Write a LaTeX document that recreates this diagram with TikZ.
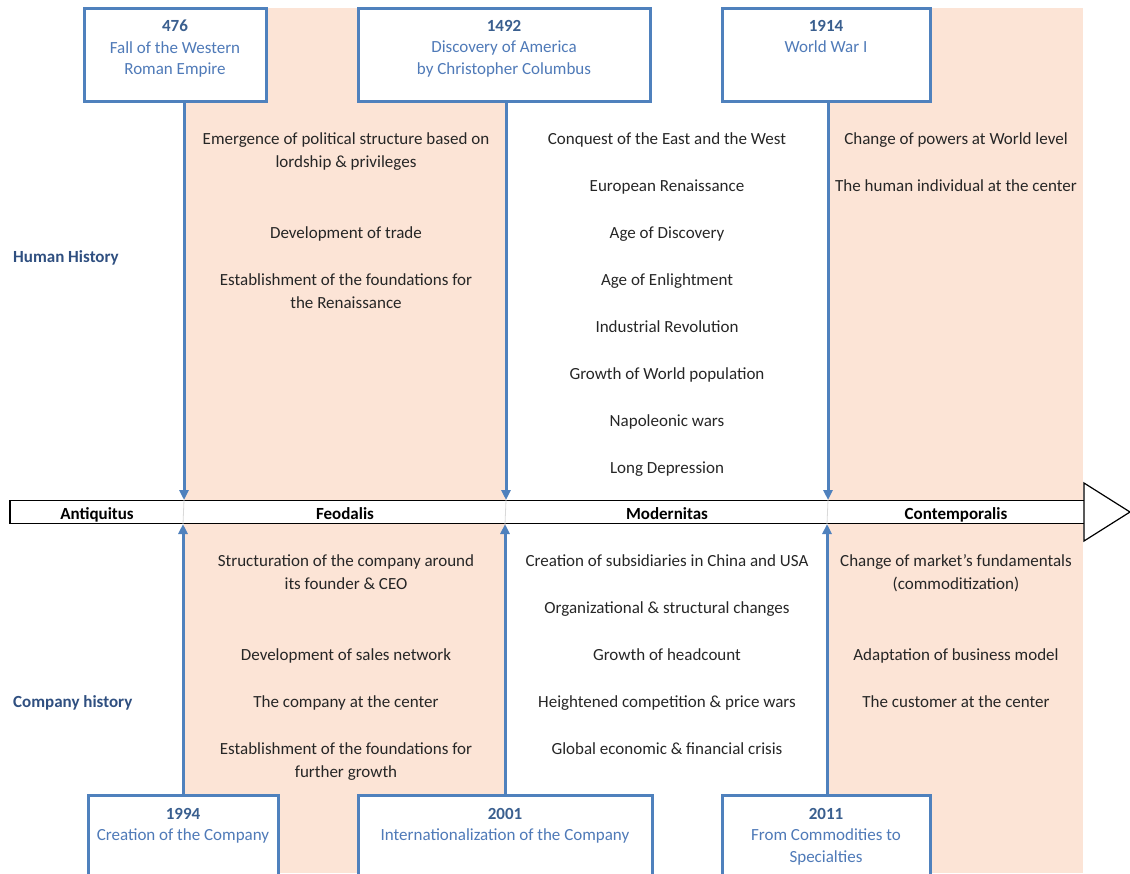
\documentclass[tikz,border=0pt]{standalone}
\usepackage{fontspec}
\setmainfont{Carlito}
\usetikzlibrary{arrows.meta}
\definecolor{peach}{HTML}{FCE4D6}
\definecolor{boxblue}{HTML}{4F81BD}
\definecolor{yearblue}{HTML}{3A5F8F}
\definecolor{txtblue}{HTML}{4F7AB8}
\definecolor{lblblue}{HTML}{2F4F80}
\definecolor{bodytxt}{HTML}{262626}
\begin{document}
\begin{tikzpicture}[x=1pt,y=-1pt,
 evbox/.style={draw=boxblue, line width=3pt, fill=white, inner sep=0pt},
 evtext/.style={anchor=north, align=center, inner sep=0pt, font=\fontsize{17}{21.5}\selectfont, text=txtblue},
 item/.style={align=center, inner sep=0pt, font=\fontsize{17}{23}\selectfont, text=bodytxt},
 line1/.style={item, anchor=base},
 era/.style={anchor=base, inner sep=0pt, font=\fontsize{17}{20}\selectfont\bfseries},
 side/.style={anchor=base west, inner sep=0pt, font=\fontsize{17}{20}\selectfont\bfseries, text=lblblue},
 conn/.style={draw=boxblue, line width=3pt, -{Triangle[length=10pt,width=9pt]}},
 sep/.style={draw=black!15, line width=0.8pt},
 axisline/.style={draw=black, line width=1.2pt, fill=white},
]
\useasboundingbox (0,0) rectangle (1130,873);
% shaded periods
\fill[peach] (184,8) rectangle (506,873);
\fill[peach] (828,8) rectangle (1083,873);
% time axis
\draw[axisline] (1084,500.5) -- (10,500.5) -- (10,523.5) -- (1084,523.5);
\draw[axisline] (1084,483) -- (1130,512) -- (1084,541) -- cycle;
\coordinate (aA) at (184,500);
\coordinate (aB) at (506,500);
\coordinate (aC) at (828,500);
\coordinate (bA) at (183,524);
\coordinate (bB) at (505,524);
\coordinate (bC) at (827,524);
\draw[sep] (aA) -- (bA);
\draw[sep] (aB) -- (bB);
\draw[sep] (aC) -- (bC);
\node[era] (antiq) at (97,519) {Antiquitus};
\node[era] (feod) at (345,519) {Feodalis};
\node[era] (moder) at (667,519) {Modernitas};
\node[era] (contemp) at (956,519) {Contemporalis};
% top event boxes
\node[evbox, minimum width=182pt, minimum height=93pt] (t476) at (175,54.5) {};
\node[evbox, minimum width=292pt, minimum height=93pt] (t1492) at (504,54.5) {};
\node[evbox, minimum width=208pt, minimum height=93pt] (t1914) at (826,54.5) {};
\node[evtext] (t476txt) at (175,20) {\textbf{\textcolor{yearblue}{476}}\\Fall of the Western\\Roman Empire};
\node[evtext] (t1492txt) at (504,20) {\textbf{\textcolor{yearblue}{1492}}\\Discovery of America\\by Christopher Columbus};
\node[evtext] (t1914txt) at (826,20) {\textbf{\textcolor{yearblue}{1914}}\\World War I};
% bottom event boxes
\node[evbox, minimum width=190pt, minimum height=110pt] (c1994) at (183,850) {};
\node[evbox, minimum width=294pt, minimum height=110pt] (c2001) at (505,850) {};
\node[evbox, minimum width=208pt, minimum height=110pt] (c2011) at (826,850) {};
\node[evtext] (c1994txt) at (183,808) {\textbf{\textcolor{yearblue}{1994}}\\Creation of the Company};
\node[evtext] (c2001txt) at (505,808) {\textbf{\textcolor{yearblue}{2001}}\\Internationalization of the Company};
\node[evtext] (c2011txt) at (826,808) {\textbf{\textcolor{yearblue}{2011}}\\From Commodities to\\Specialties};
% connectors
\draw[conn] (t476.south -| aA) -- (aA);
\draw[conn] (t1492.south -| aB) -- (aB);
\draw[conn] (t1914.south -| aC) -- (aC);
\draw[conn] (c1994.north -| bA) -- (bA);
\draw[conn] (c2001.north -| bB) -- (bB);
\draw[conn] (c2011.north -| bC) -- (bC);
% side labels
\node[side] (hh) at (13,262) {Human History};
\node[side] (ch) at (13,707) {Company history};
% human history items
\node[item] (h1) at (346,151.5) {Emergence of political structure based on\\lordship \& privileges};
\node[line1] (h2) at (346,238) {Development of trade};
\node[item] (h3) at (346,291) {Establishment of the foundations for\\the Renaissance};
\node[line1] (h4) at (667,144) {Conquest of the East and the West};
\node[line1] (h5) at (667,191) {European Renaissance};
\node[line1] (h6) at (667,238) {Age of Discovery};
\node[line1] (h7) at (667,285) {Age of Enlightment};
\node[line1] (h8) at (667,332) {Industrial Revolution};
\node[line1] (h9) at (667,379) {Growth of World population};
\node[line1] (h10) at (667,426) {Napoleonic wars};
\node[line1] (h11) at (667,473) {Long Depression};
\node[line1] (h12) at (956,144) {Change of powers at World level};
\node[line1] (h13) at (956,191) {The human individual at the center};
% company history items
\node[item] (k1) at (346,572.5) {Structuration of the company around\\its founder \& CEO};
\node[line1] (k2) at (346,660) {Development of sales network};
\node[line1] (k3) at (346,707) {The company at the center};
\node[item] (k4) at (346,761.5) {Establishment of the foundations for\\further growth};
\node[line1] (k5) at (667,566) {Creation of subsidiaries in China and USA};
\node[line1] (k6) at (667,613) {Organizational \& structural changes};
\node[line1] (k7) at (667,660) {Growth of headcount};
\node[line1] (k8) at (667,707) {Heightened competition \& price wars};
\node[line1] (k9) at (667,754) {Global economic \& financial crisis};
\node[item] (k10) at (956,573.5) {Change of market's fundamentals\\(commoditization)};
\node[line1] (k11) at (956,660) {Adaptation of business model};
\node[line1] (k12) at (956,707) {The customer at the center};
\end{tikzpicture}
\end{document}
